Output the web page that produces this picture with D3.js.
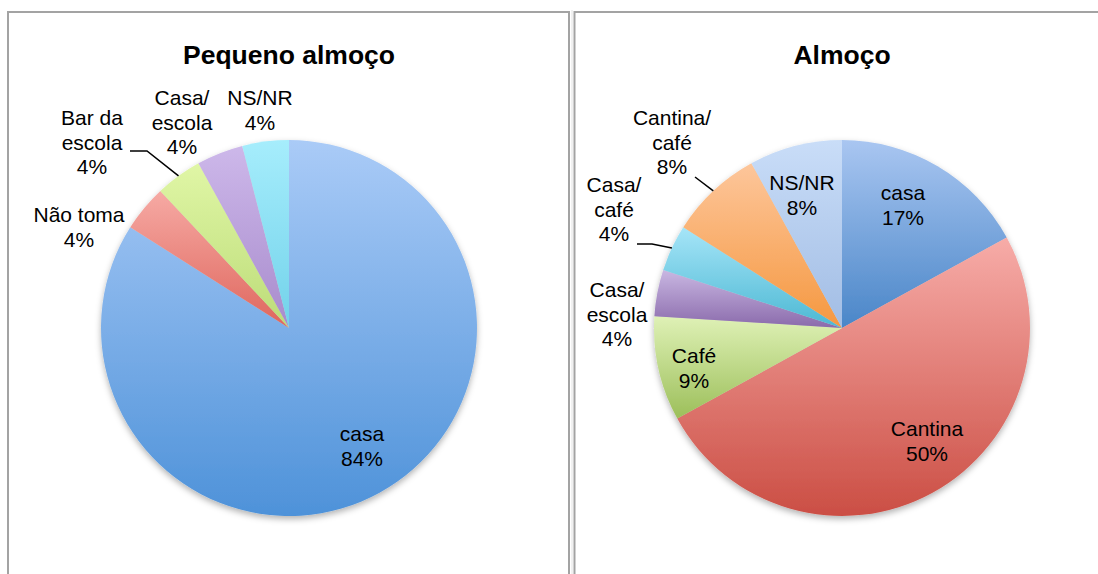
<!DOCTYPE html>
<html>
<head>
<meta charset="utf-8">
<script src="https://cdn.jsdelivr.net/npm/d3@7"></script>
<style>
  body { margin: 0; background: #fff; }
  text { font-family: "Liberation Sans", Arial, Helvetica, sans-serif; fill: #000; }
</style>
</head>
<body>
<div id="chart"></div>
<script>
// --- data ---
const breakfastTitle = "Pequeno almoço";
const breakfastNames = [["casa"], ["Não toma"], ["Bar da", "escola"], ["Casa/", "escola"], ["NS/NR"]];
const breakfastValues = [84, 4, 4, 4, 4];

const lunchTitle = "Almoço";
const lunchNames = [["casa"], ["Cantina"], ["Café"], ["Casa/", "escola"], ["Casa/", "café"], ["Cantina/", "café"], ["NS/NR"]];
const lunchValues = [17, 50, 9, 4, 4, 8, 8];

// slice colours, light (top) -> dark (bottom)
const breakfastColors = [["#aacbf7", "#4e92d9"], ["#f6aaa4", "#df665d"], ["#e0f6a6", "#bcdc78"], ["#cdb8ea", "#a88bcc"], ["#a6edfc", "#72d2ea"]];
const lunchColors = [["#a9c6f1", "#4a86c8"], ["#f7aca8", "#cb4e44"], ["#dff1b6", "#9cbf5a"], ["#c9b7e2", "#8a6aab"], ["#a6e5f8", "#4cb8d3"], ["#fdc69b", "#f59840"], ["#c9ddf8", "#a2bde4"]];

// --- layout (label anchors relative to the pie centre: first baseline) ---
const breakfastLabelPos = [[73, 113], [-210, -106], [-197, -203], [-107, -223], [-29, -223]];
const breakfastLeaders = [null, null, [[-159, -177], [-142, -177]], null, null];
const lunchLabelPos = [[61, -128], [85, 108], [-148, 35], [-225, -31], [-228, -136], [-170, -203], [-40, -138]];
const lunchLeaders = [null, null, null, null, [[-205, -84], [-190, -84]], [[-147, -151]], null];

const W = 1098, H = 574;
const radius = 188;
const lineH = 24.5;

const svg = d3.select("#chart")
  .append("svg")
  .attr("width", W)
  .attr("height", H);

const defs = svg.append("defs");
const shadow = defs.append("filter")
  .attr("id", "shadow")
  .attr("x", "-20%").attr("y", "-20%")
  .attr("width", "140%").attr("height", "140%");
shadow.append("feDropShadow")
  .attr("dx", 0).attr("dy", 3)
  .attr("stdDeviation", 3)
  .attr("flood-color", "#000")
  .attr("flood-opacity", 0.3);

// panel frames
svg.append("rect")
  .attr("x", 8).attr("y", 12)
  .attr("width", 561).attr("height", 600)
  .attr("fill", "none")
  .attr("stroke", "#a3a3a3")
  .attr("stroke-width", 2);
svg.append("line")
  .attr("x1", 572).attr("x2", 572)
  .attr("y1", 10).attr("y2", H)
  .attr("stroke", "#e2e2e2");
svg.append("rect")
  .attr("x", 574.5).attr("y", 12)
  .attr("width", 600).attr("height", 600)
  .attr("fill", "none")
  .attr("stroke", "#a3a3a3")
  .attr("stroke-width", 2);

function plotPie(id, cx, cy, title, names, values, colors, labelPos, leaders) {
  const g = svg.append("g")
    .attr("transform", "translate(" + cx + "," + cy + ")");

  // title
  svg.append("text")
    .attr("x", cx)
    .attr("y", 64)
    .attr("text-anchor", "middle")
    .attr("font-size", 26.5)
    .attr("font-weight", "bold")
    .text(title);

  const pie = d3.pie().sort(null).value(d => d);
  const arcs = pie(values);
  const arc = d3.arc().innerRadius(0).outerRadius(radius);
  const edge = d3.arc().innerRadius(radius).outerRadius(radius);

  // one vertical gradient per slice
  colors.forEach((c, i) => {
    const grad = defs.append("linearGradient")
      .attr("id", id + "-grad-" + i)
      .attr("x1", 0).attr("y1", 0)
      .attr("x2", 0).attr("y2", 1);
    grad.append("stop").attr("offset", "0%").attr("stop-color", c[0]);
    grad.append("stop").attr("offset", "100%").attr("stop-color", c[1]);
  });

  g.append("g")
    .attr("filter", "url(#shadow)")
    .selectAll("path")
    .data(arcs)
    .enter().append("path")
      .attr("d", arc)
      .attr("fill", (d, i) => "url(#" + id + "-grad-" + i + ")");

  // leader lines
  arcs.forEach((d, i) => {
    if (!leaders[i]) return;
    const pts = leaders[i].concat([edge.centroid(d)]);
    g.append("path")
      .attr("d", d3.line()(pts))
      .attr("fill", "none")
      .attr("stroke", "#000")
      .attr("stroke-width", 1.5);
  });

  // labels
  const total = d3.sum(values);
  arcs.forEach((d, i) => {
    const lines = names[i].concat([Math.round(d.value / total * 100) + "%"]);
    const t = g.append("text")
      .attr("text-anchor", "middle")
      .attr("font-size", 21);
    lines.forEach((s, k) => {
      t.append("tspan")
        .attr("x", labelPos[i][0])
        .attr("y", labelPos[i][1] + k * lineH)
        .text(s);
    });
  });
}

plotPie("bf", 289, 328, breakfastTitle, breakfastNames, breakfastValues, breakfastColors, breakfastLabelPos, breakfastLeaders);
plotPie("lu", 842, 328, lunchTitle, lunchNames, lunchValues, lunchColors, lunchLabelPos, lunchLeaders);
</script>
</body>
</html>
